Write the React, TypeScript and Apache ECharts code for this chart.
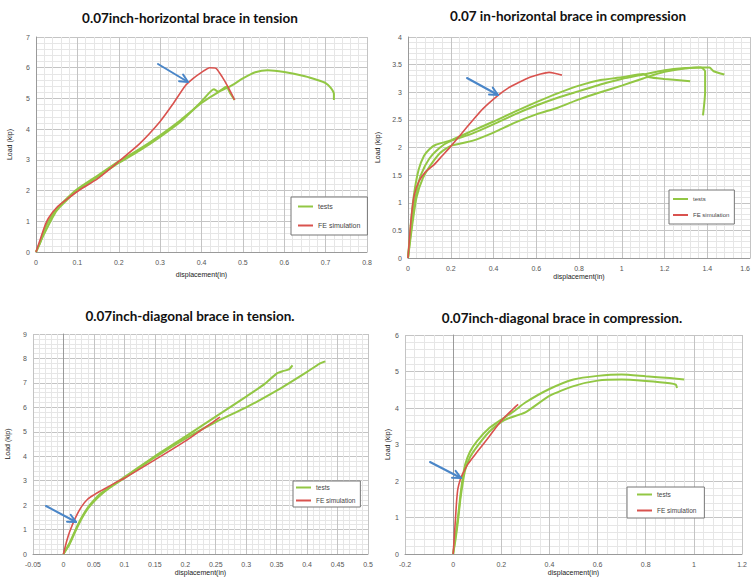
import React, { useEffect, useRef } from "react";
import * as echarts from "echarts";

// ---------- DATA (displacement [in], load [kip]) ----------
const htTitle = "0.07inch-horizontal brace in tension";
const hcTitle = "0.07 in-horizontal brace in compression";
const dtTitle = "0.07inch-diagonal brace in tension.";
const dcTitle = "0.07inch-diagonal brace in compression.";

const htTest1 = [[0,0],[0.01,0.3],[0.02,0.7],[0.03,1.0],[0.05,1.4],[0.075,1.75],[0.1,2.05],[0.15,2.5],[0.2,2.95],[0.25,3.35],[0.3,3.8],[0.35,4.3],[0.4,4.85],[0.44,5.2],[0.47,5.4],[0.5,5.65],[0.53,5.85],[0.56,5.92],[0.6,5.86],[0.65,5.72],[0.68,5.6],[0.7,5.5],[0.712,5.35],[0.72,5.15],[0.72,4.95]];
const htTest2 = [[0,0],[0.02,0.6],[0.05,1.35],[0.1,2.0],[0.15,2.45],[0.2,2.9],[0.25,3.3],[0.3,3.75],[0.35,4.25],[0.4,4.9],[0.43,5.3],[0.44,5.22],[0.46,5.38],[0.47,5.15],[0.48,4.95]];
const htFE = [[0,0],[0.01,0.4],[0.02,0.8],[0.03,1.1],[0.05,1.45],[0.075,1.72],[0.1,1.97],[0.15,2.4],[0.2,2.95],[0.25,3.52],[0.3,4.25],[0.33,4.8],[0.36,5.4],[0.38,5.65],[0.4,5.85],[0.42,6.0],[0.435,5.98],[0.45,5.7],[0.465,5.35],[0.48,4.95]];

const hcTestA = [[0,0],[0.015,0.7],[0.03,1.2],[0.05,1.6],[0.075,1.85],[0.1,1.97],[0.13,2.05],[0.2,2.13],[0.3,2.3],[0.4,2.47],[0.5,2.65],[0.6,2.82],[0.7,2.98],[0.8,3.12],[0.9,3.22],[1.0,3.27],[1.1,3.33],[1.13,3.27],[1.2,3.24],[1.32,3.2]];
const hcTestB = [[0,0],[0.02,0.7],[0.04,1.2],[0.06,1.5],[0.1,1.8],[0.15,2.0],[0.2,2.12],[0.3,2.25],[0.4,2.42],[0.5,2.6],[0.6,2.76],[0.7,2.9],[0.8,3.02],[0.9,3.14],[1.0,3.24],[1.1,3.32],[1.2,3.4],[1.3,3.44],[1.37,3.45],[1.39,3.38],[1.39,3.0],[1.38,2.58]];
const hcTestC = [[0,0],[0.02,0.6],[0.04,1.1],[0.07,1.45],[0.1,1.65],[0.15,1.9],[0.2,2.03],[0.3,2.12],[0.4,2.27],[0.5,2.45],[0.6,2.6],[0.7,2.72],[0.8,2.87],[0.9,3.0],[1.0,3.12],[1.1,3.25],[1.2,3.37],[1.3,3.43],[1.35,3.45],[1.41,3.45],[1.43,3.38],[1.48,3.32]];
const hcFE = [[0,0],[0.01,0.5],[0.02,0.9],[0.03,1.15],[0.05,1.38],[0.08,1.55],[0.12,1.68],[0.16,1.85],[0.2,2.02],[0.25,2.25],[0.3,2.48],[0.35,2.7],[0.42,2.94],[0.47,3.08],[0.52,3.18],[0.57,3.27],[0.62,3.33],[0.66,3.36],[0.69,3.34],[0.72,3.31]];

const dtTest1 = [[0,0],[0.01,0.45],[0.02,1.0],[0.03,1.5],[0.04,1.9],[0.05,2.2],[0.06,2.45],[0.08,2.8],[0.1,3.15],[0.15,4.0],[0.2,4.8],[0.25,5.62],[0.3,6.44],[0.33,6.95],[0.35,7.38],[0.36,7.48],[0.37,7.55],[0.376,7.72],[0.372,7.6]];
const dtTest2 = [[0,0],[0.01,0.4],[0.02,0.95],[0.03,1.45],[0.04,1.85],[0.05,2.15],[0.07,2.6],[0.1,3.1],[0.15,3.95],[0.2,4.72],[0.25,5.4],[0.3,6.0],[0.35,6.68],[0.4,7.45],[0.42,7.78],[0.43,7.88]];
const dtFE = [[0,0],[0.005,0.5],[0.01,0.9],[0.02,1.5],[0.03,1.95],[0.04,2.25],[0.05,2.42],[0.06,2.57],[0.07,2.7],[0.09,2.98],[0.1,3.1],[0.15,3.85],[0.2,4.62],[0.25,5.48],[0.257,5.6]];

const dcTestA = [[0,0],[0.01,0.5],[0.02,1.0],[0.03,1.6],[0.04,2.1],[0.05,2.45],[0.07,2.8],[0.1,3.1],[0.15,3.45],[0.2,3.68],[0.25,3.9],[0.3,4.15],[0.4,4.52],[0.5,4.78],[0.6,4.88],[0.7,4.92],[0.8,4.87],[0.9,4.82],[0.96,4.78]];
const dcTestB = [[0,0],[0.01,0.4],[0.02,0.9],[0.03,1.5],[0.04,1.95],[0.05,2.3],[0.07,2.65],[0.1,2.95],[0.15,3.35],[0.2,3.62],[0.23,3.72],[0.3,3.88],[0.4,4.33],[0.5,4.6],[0.6,4.75],[0.7,4.78],[0.8,4.74],[0.9,4.68],[0.925,4.64],[0.93,4.55]];
const dcFE = [[0,0],[0.005,0.5],[0.01,1.0],[0.015,1.5],[0.02,1.8],[0.03,2.05],[0.04,2.2],[0.06,2.45],[0.1,2.8],[0.15,3.22],[0.2,3.65],[0.25,3.98],[0.27,4.1]];

const seriesNames = ["tests", "FE simulation"];
const xAxisName = "displacement(in)";
const yAxisName = "Load (kip)";

// ---------- STYLE ----------
const GREEN = "#92c744";
const RED = "#d9524e";
const BLUE = "#4a86c8";
const FONT = "Liberation Sans";

type Panel = {
  title: string; tx: number; ty: number;
  grid: { left: number; top: number; width: number; height: number };
  x: [number, number, number]; y: [number, number, number];
  tests: number[][][]; fe: number[][];
  legend: { left: number; top: number; gap: number; font: number; pad: number[] };
  yNameGap: number; xNameGap: number; alignMax?: string;
  arrow: [number, number, number, number];
};

const panels: Panel[] = [
  { title: htTitle, tx: 190, ty: 18, grid: { left: 36, top: 37, width: 331, height: 215 },
    x: [0, 0.8, 0.1], y: [0, 7, 1], tests: [htTest1, htTest2], fe: htFE,
    legend: { left: 291, top: 197, gap: 12, font: 7, pad: [6, 7, 6, 7] }, yNameGap: 23, xNameGap: 19,
    arrow: [158, 64, 188, 82] },
  { title: hcTitle, tx: 568, ty: 16, grid: { left: 408, top: 37, width: 342, height: 221 },
    x: [0, 1.6, 0.2], y: [0, 4, 0.5], tests: [hcTestA, hcTestB, hcTestC], fe: hcFE,
    legend: { left: 669, top: 190, gap: 10, font: 6, pad: [6, 5, 6, 4] }, yNameGap: 27, xNameGap: 15,
    alignMax: "right", arrow: [467, 78, 498, 95] },
  { title: dtTitle, tx: 190, ty: 316, grid: { left: 33, top: 334, width: 335, height: 220 },
    x: [-0.05, 0.5, 0.05], y: [0, 9, 1], tests: [dtTest1, dtTest2], fe: dtFE,
    legend: { left: 293, top: 481, gap: 6, font: 6.5, pad: [3, 5, 3, 3] }, yNameGap: 22, xNameGap: 15,
    arrow: [46, 506, 76, 522] },
  { title: dcTitle, tx: 562, ty: 318, grid: { left: 405, top: 335, width: 337, height: 219 },
    x: [-0.2, 1.2, 0.2], y: [0, 6, 1], tests: [dcTestA, dcTestB], fe: dcFE,
    legend: { left: 627, top: 487, gap: 9, font: 6.5, pad: [4, 8, 4, 10] }, yNameGap: 11, xNameGap: 15,
    arrow: [430, 462, 461, 478] },
];

function arrowGraphics(x1: number, y1: number, x2: number, y2: number) {
  const ang = Math.atan2(y2 - y1, x2 - x1);
  const L = 9, a = 0.45;
  const p1 = [x2 - L * Math.cos(ang - a), y2 - L * Math.sin(ang - a)];
  const p2 = [x2 - L * Math.cos(ang + a), y2 - L * Math.sin(ang + a)];
  const st = { stroke: BLUE, lineWidth: 2, fill: null as any, lineCap: "round", lineJoin: "round" };
  return [
    { type: "line", shape: { x1, y1, x2, y2 }, style: st, z: 100 },
    { type: "polyline", shape: { points: [p1, [x2, y2], p2] }, style: st, z: 100 },
  ];
}

function buildOption() {
  const grid: any[] = [];
  const xAxis: any[] = [];
  const yAxis: any[] = [];
  const series: any[] = [];
  const legend: any[] = [];
  const graphic: any[] = [];

  panels.forEach((p, i) => {
    grid.push({ ...p.grid, containLabel: false, outerBoundsMode: "none" });
    const common = {
      gridIndex: i,
      type: "value",
      axisTick: { show: false },
      minorTick: { show: false, splitNumber: 5 },
      splitLine: { show: true, lineStyle: { color: "#c4c4c4", width: 1 } },
      minorSplitLine: { show: true, lineStyle: { color: "#e6e6e6", width: 1 } },
      axisLabel: { fontSize: 7, color: "#555", fontFamily: FONT },
      nameTextStyle: { fontSize: 7, color: "#222", fontFamily: FONT },
    };
    const xLabel: any = { ...common.axisLabel, margin: 7 };
    if (p.alignMax) xLabel.alignMaxLabel = p.alignMax;
    xAxis.push({
      ...common,
      min: p.x[0], max: p.x[1], interval: p.x[2],
      axisLine: { show: true, onZero: true, lineStyle: { color: "#9a9a9a" } },
      axisLabel: xLabel,
      name: xAxisName, nameLocation: "middle", nameGap: p.xNameGap,
    });
    yAxis.push({
      ...common,
      min: p.y[0], max: p.y[1], interval: p.y[2],
      axisLine: { show: true, onZero: true, lineStyle: { color: "#9a9a9a" } },
      axisLabel: { ...common.axisLabel, margin: 6 },
      name: yAxisName, nameLocation: "middle", nameGap: p.yNameGap, nameRotate: 90,
    });
    p.tests.forEach((d) => {
      series.push({
        type: "line", name: seriesNames[0], xAxisIndex: i, yAxisIndex: i,
        data: d, symbol: "none", smooth: 0.2,
        lineStyle: { color: GREEN, width: 2 }, itemStyle: { color: GREEN }, z: 3,
      });
    });
    series.push({
      type: "line", name: seriesNames[1], xAxisIndex: i, yAxisIndex: i,
      data: p.fe, symbol: "none", smooth: 0.2,
      lineStyle: { color: RED, width: 1.6 }, itemStyle: { color: RED }, z: 4,
    });
    legend.push({
      data: seriesNames, orient: "vertical", left: p.legend.left, top: p.legend.top,
      itemGap: p.legend.gap, itemWidth: 15, itemHeight: 2, icon: "rect",
      padding: p.legend.pad, borderColor: "#777", borderWidth: 1, backgroundColor: "#fff",
      textStyle: { fontSize: p.legend.font, color: "#444", fontFamily: FONT }, itemStyle: { borderWidth: 0 },
      selectedMode: false,
    });
    graphic.push({
      type: "text", x: p.tx, y: p.ty,
      style: { text: p.title, fontSize: 13.5, fontWeight: "bold", fontFamily: "Lato", fill: "#111", align: "center", verticalAlign: "middle" },
    });
    graphic.push(...arrowGraphics(...p.arrow));
  });

  return {
    animation: false,
    backgroundColor: "#fff",
    grid, xAxis, yAxis, series, legend, graphic,
  };
}

export default function App() {
  const ref = useRef<HTMLDivElement>(null);
  useEffect(() => {
    if (!ref.current) return;
    const chart = echarts.init(ref.current, undefined, { renderer: "svg" });
    chart.setOption(buildOption() as any);
    return () => chart.dispose();
  }, []);
  return (
    <div
      ref={ref}
      style={{ position: "absolute", left: 0, top: 0, width: 753, height: 586, background: "#fff" }}
    />
  );
}
